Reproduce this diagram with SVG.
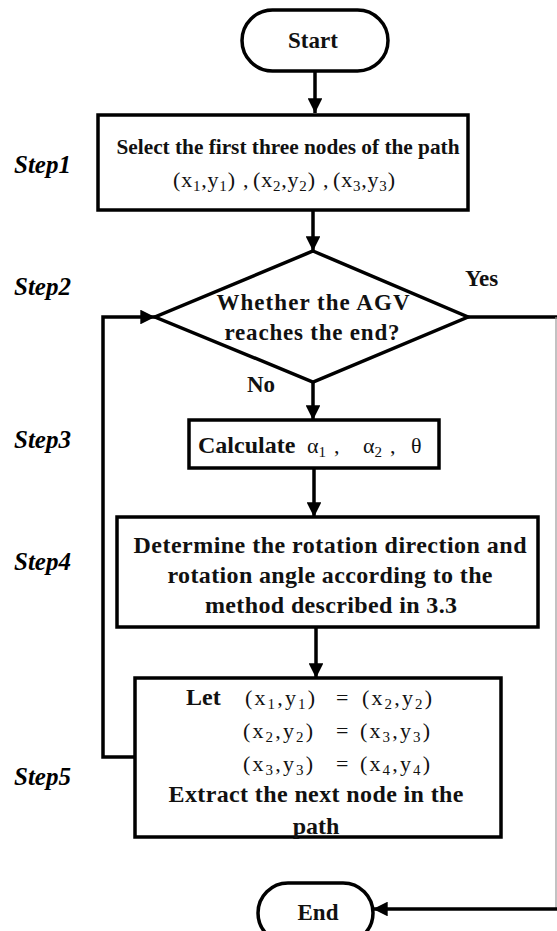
<svg xmlns="http://www.w3.org/2000/svg" width="557" height="931" viewBox="0 0 557 931">
<style>
.sh{fill:#fff;stroke:#000;stroke-width:3.5}
.ln{fill:none;stroke:#000;stroke-width:3.5}
.t{font-family:"Liberation Serif","Times New Roman",serif;font-weight:bold;font-size:23px;fill:#111}
.t24{font-size:24px}
.st{font-family:"Liberation Serif","Times New Roman",serif;font-weight:bold;font-style:italic;font-size:25px;fill:#000}
.m{font-family:"Liberation Serif","Times New Roman",serif;font-weight:normal;font-size:22px;fill:#111}
.sub{font-size:15px}
</style>
<defs>
<marker id="ah" viewBox="0 0 10 10" refX="10" refY="5" markerWidth="4.2" markerHeight="4.2" markerUnits="strokeWidth" orient="auto">
<path d="M0,0 L10,5 L0,10 Z" fill="#000"/>
</marker>
</defs>
<g id="connectors">
<line class="ln" x1="315" y1="71" x2="315" y2="113" marker-end="url(#ah)"/>
<line class="ln" x1="313" y1="210" x2="313" y2="251" marker-end="url(#ah)"/>
<line class="ln" x1="313" y1="382" x2="313" y2="420" marker-end="url(#ah)"/>
<line class="ln" x1="314" y1="468" x2="314" y2="517" marker-end="url(#ah)"/>
<line class="ln" x1="316" y1="627" x2="316" y2="678" marker-end="url(#ah)"/>
<polyline class="ln" points="135,757 103,757 103,317 155,317" marker-end="url(#ah)"/>
<line class="ln" x1="468" y1="317" x2="557" y2="317"/>
<line x1="556" y1="317" x2="556" y2="909" stroke="#999" stroke-width="1.2"/>
<line class="ln" x1="557" y1="909" x2="373" y2="909" marker-end="url(#ah)"/>
</g>
<g id="start">
<rect class="sh" x="242" y="10" width="146" height="61" rx="30.5"/>
<text class="t" x="313" y="48" text-anchor="middle">Start</text>
</g>
<g id="step1">
<rect class="sh" x="98" y="115" width="370" height="95"/>
<text class="t" x="288" y="154" text-anchor="middle" textLength="343" lengthAdjust="spacingAndGlyphs" style="font-size:22px">Select the first three nodes of the path</text>
<text class="m" x="173" y="187" textLength="62" lengthAdjust="spacing">(x<tspan class="sub" dy="4">1</tspan><tspan dy="-4">,y</tspan><tspan class="sub" dy="4">1</tspan><tspan dy="-4">)</tspan></text>
<text class="m" x="243" y="187">,</text>
<text class="m" x="253" y="187" textLength="62" lengthAdjust="spacing">(x<tspan class="sub" dy="4">2</tspan><tspan dy="-4">,y</tspan><tspan class="sub" dy="4">2</tspan><tspan dy="-4">)</tspan></text>
<text class="m" x="323" y="187">,</text>
<text class="m" x="333" y="187" textLength="62" lengthAdjust="spacing">(x<tspan class="sub" dy="4">3</tspan><tspan dy="-4">,y</tspan><tspan class="sub" dy="4">3</tspan><tspan dy="-4">)</tspan></text>
</g>
<g id="step2">
<polygon class="sh" points="313,251 468,317 313,382 155,317"/>
<text class="t" x="313" y="310" text-anchor="middle" textLength="193" lengthAdjust="spacing">Whether the AGV</text>
<text class="t" x="312" y="340" text-anchor="middle" textLength="175" lengthAdjust="spacing">reaches the end?</text>
<text class="t" x="465" y="286">Yes</text>
<text class="t" x="247" y="392">No</text>
</g>
<g id="step3">
<rect class="sh" x="189" y="420" width="250" height="48"/>
<text class="t t24" x="198" y="453">Calculate</text>
<text class="m" x="307" y="453">α<tspan class="sub" dy="4">1</tspan><tspan dy="-4" x="334">,</tspan><tspan x="363">α</tspan><tspan class="sub" dy="4">2</tspan><tspan dy="-4" x="390">,</tspan><tspan x="411">θ</tspan></text>
</g>
<g id="step4">
<rect class="sh" x="117" y="517" width="421" height="110"/>
<text class="t t24" x="330" y="553" text-anchor="middle" textLength="393" lengthAdjust="spacing">Determine the rotation direction and</text>
<text class="t t24" x="330" y="583" text-anchor="middle" textLength="325" lengthAdjust="spacing">rotation angle according to the</text>
<text class="t t24" x="331" y="613" text-anchor="middle" textLength="252" lengthAdjust="spacing">method described in 3.3</text>
</g>
<g id="step5">
<rect class="sh" x="135" y="678" width="366" height="159"/>
<text class="t t24" x="186" y="705">Let</text>
<text class="m" x="245" y="705" textLength="70" lengthAdjust="spacing">(x<tspan class="sub" dy="4">1</tspan><tspan dy="-4">,y</tspan><tspan class="sub" dy="4">1</tspan><tspan dy="-4">)</tspan></text>
<text class="m" x="336" y="705">=</text>
<text class="m" x="362" y="705" textLength="70" lengthAdjust="spacing">(x<tspan class="sub" dy="4">2</tspan><tspan dy="-4">,y</tspan><tspan class="sub" dy="4">2</tspan><tspan dy="-4">)</tspan></text>
<text class="m" x="243" y="738" textLength="70" lengthAdjust="spacing">(x<tspan class="sub" dy="4">2</tspan><tspan dy="-4">,y</tspan><tspan class="sub" dy="4">2</tspan><tspan dy="-4">)</tspan></text>
<text class="m" x="336" y="738">=</text>
<text class="m" x="360" y="738" textLength="70" lengthAdjust="spacing">(x<tspan class="sub" dy="4">3</tspan><tspan dy="-4">,y</tspan><tspan class="sub" dy="4">3</tspan><tspan dy="-4">)</tspan></text>
<text class="m" x="243" y="771" textLength="70" lengthAdjust="spacing">(x<tspan class="sub" dy="4">3</tspan><tspan dy="-4">,y</tspan><tspan class="sub" dy="4">3</tspan><tspan dy="-4">)</tspan></text>
<text class="m" x="336" y="771">=</text>
<text class="m" x="360" y="771" textLength="70" lengthAdjust="spacing">(x<tspan class="sub" dy="4">4</tspan><tspan dy="-4">,y</tspan><tspan class="sub" dy="4">4</tspan><tspan dy="-4">)</tspan></text>
<text class="t t24" x="316" y="802" text-anchor="middle" textLength="295" lengthAdjust="spacing">Extract the next node in the</text>
<text class="t t24" x="316" y="834" text-anchor="middle">path</text>
</g>
<g id="end">
<rect class="sh" x="258" y="883" width="115" height="60" rx="30"/>
<text class="t" x="318" y="920" text-anchor="middle">End</text>
</g>
<g id="steps">
<text class="st" x="14" y="173">Step1</text>
<text class="st" x="14" y="295">Step2</text>
<text class="st" x="14" y="448">Step3</text>
<text class="st" x="14" y="570">Step4</text>
<text class="st" x="14" y="785">Step5</text>
</g>
</svg>
